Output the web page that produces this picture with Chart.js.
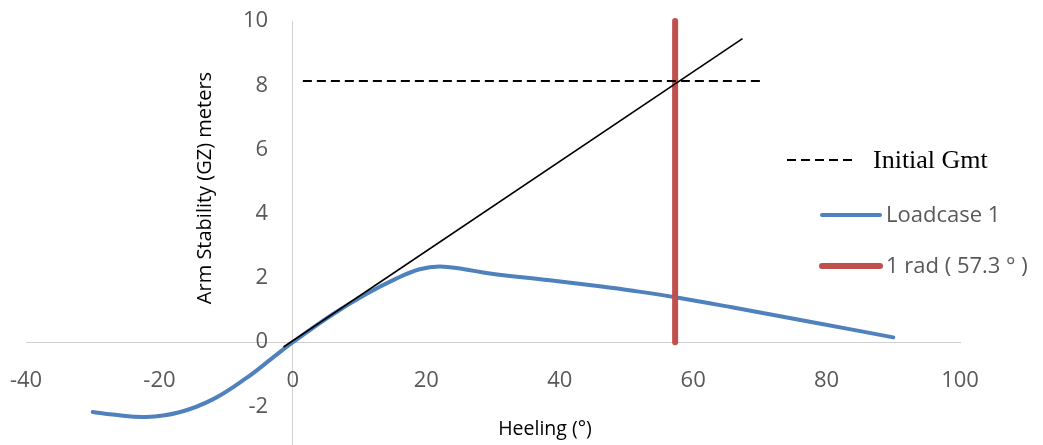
<!DOCTYPE html>
<html>
<head>
<meta charset="utf-8">
<title>Arm Stability (GZ)</title>
<script src="https://cdn.jsdelivr.net/npm/chart.js@4.4.1/dist/chart.umd.min.js"></script>
<style>
  html, body { margin: 0; padding: 0; background: #fff; }
  #wrap { position: relative; width: 1043px; height: 445px; }
</style>
</head>
<body>
<div id="wrap"><canvas id="gzChart" width="1043" height="445"></canvas></div>
<script>
// heel angle (deg) vs GZ (m)
const heelAngles = [-30, -27, -22, -17, -12, -7, -3, 0, 6, 11, 15.5, 19, 22, 25.5, 29.5, 38.5, 46, 51, 57.3, 66, 78.5, 90];
const gzLoadcase1 = [-2.17, -2.25, -2.33, -2.18, -1.78, -1.12, -0.48, 0, 0.87, 1.5, 1.98, 2.27, 2.36, 2.28, 2.14, 1.93, 1.74, 1.6, 1.4, 1.08, 0.6, 0.15];

// initial GM line (dashed) and its tangent at the origin
const gmtX = [1.5, 70.5];
const gmtY = [8.13, 8.13];
const tangentX = [-1.4, 67.4];
const tangentY = [-0.15, 9.45];

// 1 rad marker
const radX = [57.3, 57.3];
const radY = [0, 10];

const xTicks = [-40, -20, 0, 20, 40, 60, 80, 100];
const yTicks = [-2, 0, 2, 4, 6, 8, 10];

const axisGray = '#d0d0d0';
const tickGray = '#595959';
const blue = '#4f81bd';
const red = '#c0504d';

function pts(xs, ys) {
    return xs.map((x, i) => ({ x: x, y: ys[i] }));
}

// titles + legend are drawn on top of the plot area, like the original
const overlayText = {
    id: 'overlayText',
    afterDraw(chart) {
        const ctx = chart.ctx;
        const ds = chart.data.datasets;
        ctx.save();
        ctx.fillStyle = '#000';
        ctx.font = '19.5px "Open Sans"';
        ctx.textAlign = 'center';
        ctx.textBaseline = 'middle';
        ctx.fillText('Heeling (°)', 545, 429);
        ctx.translate(205, 188);
        ctx.rotate(-Math.PI / 2);
        ctx.font = '20px "Open Sans"';
        ctx.fillText('Arm Stability (GZ) meters', 0, 0);
        ctx.restore();

        const items = [
            { ds: ds[1], x0: 787, x1: 857, tx: 873, y: 160, font: '26px "Liberation Serif"', color: '#000' },
            { ds: ds[3], x0: 822, x1: 880, tx: 886, y: 215, font: '22px "Open Sans"', color: tickGray },
            { ds: ds[2], x0: 822, x1: 880, tx: 886, y: 266, font: '22px "Open Sans"', color: tickGray }
        ];
        items.forEach(it => {
            ctx.save();
            ctx.strokeStyle = it.ds.borderColor;
            ctx.lineWidth = it.ds.borderWidth;
            ctx.lineCap = it.ds.borderDash ? 'butt' : 'round';
            ctx.setLineDash(it.ds.borderDash || []);
            ctx.beginPath();
            ctx.moveTo(it.x0, it.y);
            ctx.lineTo(it.x1, it.y);
            ctx.stroke();
            ctx.fillStyle = it.color;
            ctx.font = it.font;
            ctx.textAlign = 'left';
            ctx.textBaseline = 'middle';
            ctx.fillText(it.ds.label, it.tx, it.y + 1);
            ctx.restore();
        });
    }
};

const ctx = document.getElementById('gzChart').getContext('2d');
new Chart(ctx, {
    type: 'scatter',
    data: {
        datasets: [
            {
                label: 'tangent',
                data: pts(tangentX, tangentY),
                showLine: true, borderColor: '#000', borderWidth: 1.6,
                pointRadius: 0, clip: false
            },
            {
                label: 'Initial Gmt',
                data: pts(gmtX, gmtY),
                showLine: true, borderColor: '#000', borderWidth: 2, borderDash: [9, 5],
                pointRadius: 0, clip: false
            },
            {
                label: '1 rad ( 57.3 ° )',
                data: pts(radX, radY),
                showLine: true, borderColor: red, borderWidth: 6, borderCapStyle: 'round',
                pointRadius: 0, clip: false
            },
            {
                label: 'Loadcase 1',
                data: pts(heelAngles, gzLoadcase1),
                showLine: true, borderColor: blue, borderWidth: 4, borderCapStyle: 'round',
                borderJoinStyle: 'round', tension: 0.4,
                pointRadius: 0, clip: false
            }
        ]
    },
    options: {
        responsive: false,
        animation: false,
        layout: { padding: { left: 26, right: 83, top: 21, bottom: 0 } },
        plugins: { legend: { display: false }, tooltip: { enabled: false } },
        scales: {
            x: {
                type: 'linear', min: -40, max: 100,
                position: { y: 0 },
                afterBuildTicks: s => { s.ticks = xTicks.map(v => ({ value: v })); },
                afterFit: s => { s.paddingLeft = 0; s.paddingRight = 0; },
                grid: { drawTicks: false, lineWidth: 1, color: c => (c.tick && c.tick.value === 0) ? axisGray : 'rgba(0,0,0,0)' },
                border: { color: axisGray, width: 1 },
                ticks: { color: tickGray, font: { family: 'Open Sans', size: 22 }, padding: 25, maxRotation: 0, autoSkip: false }
            },
            y: {
                type: 'linear', min: -3.2, max: 10,
                position: { x: -3.7 },
                afterBuildTicks: s => { s.ticks = yTicks.map(v => ({ value: v })); },
                afterFit: s => { s.paddingTop = 0; s.paddingBottom = 0; },
                grid: { display: false, drawTicks: false },
                border: { display: false },
                ticks: { color: tickGray, font: { family: 'Open Sans', size: 22 }, padding: 0 }
            }
        }
    },
    plugins: [overlayText]
});
</script>
</body>
</html>
